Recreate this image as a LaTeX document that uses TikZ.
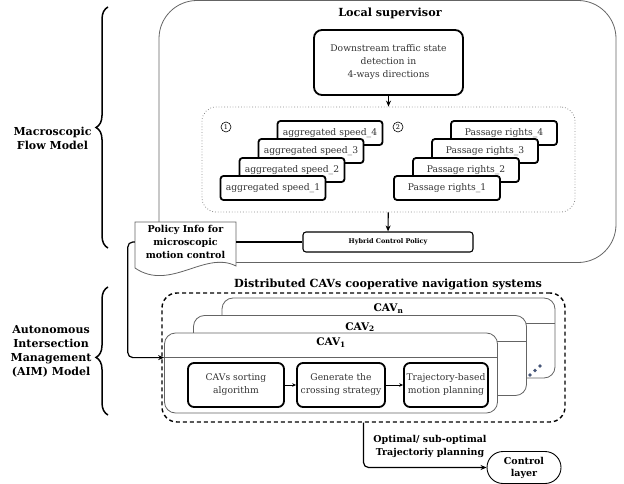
\documentclass[tikz,border=0pt]{standalone}
\usepackage{fontspec}
\setmainfont{DejaVu Serif}
\usetikzlibrary{positioning,calc,arrows.meta,decorations.pathreplacing}

\begin{document}
\begin{tikzpicture}[x=1pt, y=-1pt,
    boldbox/.style={draw, line width=1.8pt, rounded corners=5pt, fill=white, text=txtgray, align=center, inner sep=0pt, font=\fontsize{9.2}{13}\selectfont},
    stackbox/.style={boldbox, minimum height=24pt, rounded corners=3pt},
    cavbox/.style={draw=framegray, line width=0.8pt, rounded corners=11pt, fill=white, minimum width=333pt, minimum height=80pt, inner sep=0pt},
    cavtitle/.style={font=\bfseries\fontsize{10.5}{12}\selectfont},
    heading/.style={font=\bfseries\fontsize{11.2}{13}\selectfont, align=center},
    sidelabel/.style={font=\bfseries\fontsize{11}{14}\selectfont, align=center, anchor=east},
    modelbrace/.style={decorate, decoration={brace, amplitude=12pt}, line width=1.5pt},
    flowarrow/.style={-{Stealth[length=6pt, width=5pt]}, line width=1.2pt},
    thinarrow/.style={-{Stealth[length=4pt, width=3.5pt]}, line width=0.8pt},
    stepnum/.style={circle, draw, line width=0.6pt, inner sep=0pt, minimum size=10pt, font=\fontsize{6.5}{7}\selectfont}
]
    % Define colors
    \definecolor{txtgray}{RGB}{51,51,51}
    \definecolor{framegray}{RGB}{100,100,100}
    \definecolor{dotgray}{RGB}{140,140,140}
    \definecolor{dotblue}{RGB}{70,85,120}

    \useasboundingbox (0,0) rectangle (624,484);

    % Local supervisor
    \node[draw=framegray, line width=0.8pt, rounded corners=38pt, minimum width=457pt, minimum height=262pt] (supervisor) at (387.5,131.5) {};
    \node[heading] (suptitle) at (390,13) {Local supervisor};
    \node[boldbox, minimum width=149pt, minimum height=65pt, rounded corners=8pt] (detection) at (388.5,62.5) {Downstream traffic state\\detection in\\4-ways directions};

    % Aggregated speeds and passage rights
    \node[draw=dotgray, dotted, line width=0.8pt, rounded corners=14pt, minimum width=373pt, minimum height=105pt] (groupbox) at (388.5,159.5) {};
    \node[stepnum] (num1) at (226,127) {1};
    \node[stepnum] (num2) at (398,127) {2};

    \node[stackbox, minimum width=105pt] (speed4) at (330,133) {aggregated speed\_4};
    \node[stackbox, minimum width=105pt] (speed3) at (311,151) {aggregated speed\_3};
    \node[stackbox, minimum width=105pt] (speed2) at (292,170) {aggregated speed\_2};
    \node[stackbox, minimum width=105pt] (speed1) at (273,188) {aggregated speed\_1};

    \node[stackbox, minimum width=106pt] (rights4) at (504,133) {Passage rights\_4};
    \node[stackbox, minimum width=106pt] (rights3) at (485,151) {Passage rights\_3};
    \node[stackbox, minimum width=106pt] (rights2) at (466,170) {Passage rights\_2};
    \node[stackbox, minimum width=106pt] (rights1) at (447,188) {Passage rights\_1};

    % Hybrid control policy
    \node[draw, line width=1.1pt, rounded corners=3pt, fill=white, minimum width=170pt, minimum height=20pt, font=\bfseries\fontsize{6.5}{8}\selectfont] (hybrid) at (388,242) {Hybrid Control Policy};

    \draw[flowarrow] (detection) -- (groupbox);
    \draw[flowarrow] (groupbox) -- (hybrid);

    % Policy info document
    \draw[framegray, line width=0.8pt, fill=white] (135,222) -- (236,222) -- (236,266) .. controls (205,250) and (170,292) .. (135,268) -- cycle;
    \node[font=\bfseries\fontsize{9.5}{13}\selectfont, align=center, minimum width=101pt, minimum height=42pt, inner sep=0pt] (policy) at (185.5,242) {Policy Info for\\microscopic\\motion control};
    \draw[line width=1.1pt] (policy.east) -- (hybrid.west);

    % Distributed CAVs
    \node[heading] (cavtitle) at (388,284) {Distributed CAVs cooperative navigation systems};
    \node[draw, line width=1.4pt, dash pattern=on 4pt off 3pt, rounded corners=15pt, minimum width=403pt, minimum height=129pt] (cavgroup) at (363.5,357.5) {};

    \node[cavbox] (cavn) at (388.5,338) {};
    \draw[framegray, line width=0.8pt] ($(cavn.north west)+(0,26)$) -- ($(cavn.north east)+(0,26)$);
    \node[cavtitle] (cavnlabel) at ($(cavn.north)+(0,11)$) {CAV\textsubscript{n}};

    \node[cavbox] (cav2) at (360,355.5) {};
    \draw[framegray, line width=0.8pt] ($(cav2.north west)+(0,26)$) -- ($(cav2.north east)+(0,26)$);
    \node[cavtitle] (cav2label) at ($(cav2.north)+(0,12)$) {CAV\textsubscript{2}};

    \node[cavbox] (cav1) at (331,373) {};
    \coordinate (cav1sep) at ($(cav1.north west)+(0,25)$);
    \draw[framegray, line width=0.8pt] (cav1sep) -- ($(cav1.north east)+(0,25)$);
    \node[cavtitle] (cav1label) at ($(cav1.north)+(0,10)$) {CAV\textsubscript{1}};

    % dots for more vehicles
    \fill[dotblue] (530,375) circle (1.8pt);
    \fill[dotblue] (535,370.5) circle (1.8pt);
    \fill[dotblue] (540,366) circle (1.8pt);

    % Steps inside CAV_1
    \node[boldbox, minimum width=96pt, minimum height=44pt, rounded corners=6pt] (sorting) at (236,385) {CAVs sorting\\algorithm};
    \node[boldbox, minimum width=88pt, minimum height=44pt, rounded corners=6pt] (crossing) at (341,385) {Generate the\\crossing strategy};
    \node[boldbox, minimum width=84pt, minimum height=44pt, rounded corners=6pt] (trajectory) at (446,385) {Trajectory-based\\motion planning};
    \draw[thinarrow] (sorting) -- (crossing);
    \draw[thinarrow] (crossing) -- (trajectory);

    \draw[flowarrow, rounded corners=5pt] (policy.west) -- ++(-7,0) |- (cav1sep);

    % Output to control layer
    \node[draw, line width=0.9pt, rounded corners=16pt, minimum width=74pt, minimum height=32pt, inner sep=0pt, align=center, font=\bfseries\fontsize{9.5}{12}\selectfont] (control) at (524,467.5) {Control\\layer};
    \draw[flowarrow, rounded corners=5pt] (cavgroup.south) |- (control.west);
    \node[font=\bfseries\fontsize{9.5}{13}\selectfont, align=center] (optlabel) at (430,446.5) {Optimal/ sub-optimal\\Trajectoriy planning};

    % Model braces
    \draw[modelbrace] (108,248) -- (108,7);
    \node[sidelabel] (macro) at (95,138) {Macroscopic\\Flow Model};
    \draw[modelbrace, decoration={aspect=0.45}] (108,415) -- (108,287);
    \node[sidelabel] (aim) at (95,351) {Autonomous\\Intersection\\Management\\(AIM) Model};
\end{tikzpicture}
\end{document}
